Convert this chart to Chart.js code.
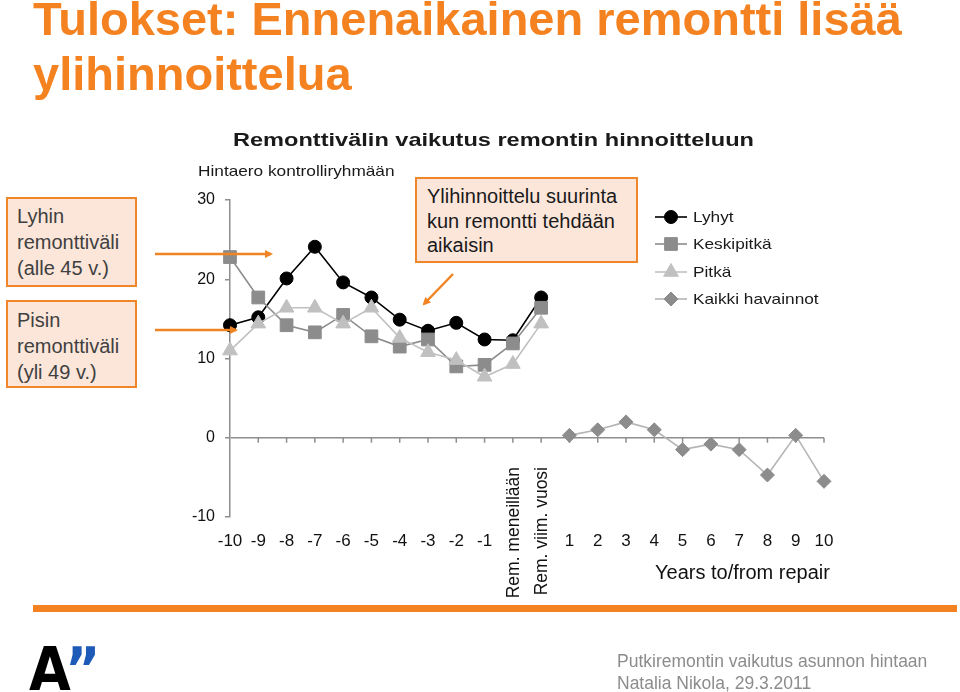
<!DOCTYPE html>
<html>
<head>
<meta charset="utf-8">
<script src="https://cdn.jsdelivr.net/npm/chart.js"></script>
<style>
  body { margin: 0; width: 960px; height: 692px; position: relative; overflow: hidden; background: #fff;
         font-family: Arial, "Liberation Sans", sans-serif; }
  #chart { position: absolute; left: 0; top: 0; }
  .abs { position: absolute; white-space: nowrap; }
  .title { left: 33px; top: -9px; font-size: 47px; line-height: 55px; font-weight: bold; color: #F58220; }
  .chartTitle { left: 233px; top: 129px; font-size: 19px; line-height: 22px; font-weight: bold; color: #1a1a1a;
                transform: scaleX(1.24); transform-origin: left top; }
  .yTitle { left: 198px; top: 162px; font-size: 15px; line-height: 18px; color: #1a1a1a;
            transform: scaleX(1.15); transform-origin: left top; }
  .box { position: absolute; background: #FCE6DA; border: 2px solid #F0862A; box-sizing: border-box;
         color: #404040; font-size: 20px; white-space: nowrap; }
  .xTitle { left: 655px; top: 560px; font-size: 20px; line-height: 24px; color: #111; }
  .bar { position: absolute; left: 33px; top: 605px; width: 924px; height: 7px; background: #F58220; }
  .logo { left: 29px; top: 633px; font-family: "DejaVu Sans", "Liberation Sans", Arial, sans-serif;
          font-weight: bold; font-size: 60px; line-height: 72px; color: #000;
          transform: scaleX(0.9); transform-origin: left top; letter-spacing: -1px; }
  .logo span { color: #1E5BB8; }
  .footer { left: 617px; top: 650px; font-size: 17.5px; line-height: 22px; color: #8c8c8c; }
  svg { position: absolute; left: 0; top: 0; }
</style>
</head>
<body>
<canvas id="chart" width="960" height="692"></canvas>

<div class="abs title">Tulokset: Ennenaikainen remontti lisää<br>ylihinnoittelua</div>
<div class="abs chartTitle">Remonttivälin vaikutus remontin hinnoitteluun</div>
<div class="abs yTitle">Hintaero kontrolliryhmään</div>

<div class="box" style="left:6px; top:197px; width:131px; height:90px; padding:4px 0 0 9px; line-height:26px;">Lyhin<br>remonttiväli<br>(alle 45 v.)</div>
<div class="box" style="left:6px; top:300px; width:131px; height:88px; padding:5px 0 0 9px; line-height:26px;">Pisin<br>remonttiväli<br>(yli 49 v.)</div>
<div class="box" style="left:415px; top:177px; width:223px; height:86px; padding:5px 0 0 10px; line-height:24.5px; color:#1a1a1a;">Ylihinnoittelu suurinta<br>kun remontti tehdään<br>aikaisin</div>

<svg width="960" height="692">
  <defs>
    <marker id="head" markerWidth="8" markerHeight="8" refX="6" refY="4" orient="auto" markerUnits="userSpaceOnUse">
      <path d="M0,0 L8,4 L0,8 z" fill="#F08424"/>
    </marker>
  </defs>
  <line x1="155" y1="254" x2="271" y2="254" stroke="#F08424" stroke-width="2.5" marker-end="url(#head)"/>
  <line x1="155" y1="330" x2="236" y2="330" stroke="#F08424" stroke-width="2.5" marker-end="url(#head)"/>
  <line x1="453" y1="274" x2="424" y2="304" stroke="#F08424" stroke-width="2.5" marker-end="url(#head)"/>
</svg>

<div class="abs xTitle">Years to/from repair</div>
<div class="bar"></div>
<div class="abs logo">A<span>”</span></div>
<div class="abs footer">Putkiremontin vaikutus asunnon hintaan<br>Natalia Nikola, 29.3.2011</div>

<script>
// data
const categories = ["-10", "-9", "-8", "-7", "-6", "-5", "-4", "-3", "-2", "-1",
  "Rem. meneillään", "Rem. viim. vuosi", "1", "2", "3", "4", "5", "6", "7", "8", "9", "10"];
const verticalLabels = ["Rem. meneillään", "Rem. viim. vuosi"];

const lyhyt = [14.2, 15.2, 20.1, 24.1, 19.6, 17.7, 14.9, 13.5, 14.5, 12.4, 12.3, 17.7,
  null, null, null, null, null, null, null, null, null, null];
const keskipitka = [22.8, 17.7, 14.2, 13.3, 15.5, 12.8, 11.5, 12.4, 9.0, 9.2, 11.9, 16.4,
  null, null, null, null, null, null, null, null, null, null];
const pitka = [11.0, 14.4, 16.4, 16.4, 14.4, 16.4, 12.6, 10.8, 9.8, 7.7, 9.3, 14.4,
  null, null, null, null, null, null, null, null, null, null];
const kaikki = [null, null, null, null, null, null, null, null, null, null, null, null,
  0.3, 1.0, 2.0, 1.0, -1.5, -0.8, -1.5, -4.7, 0.3, -5.5];

const yTicks = [-10, 0, 10, 20, 30];

const axisColor = "#8e8e8e";
const legendRows = [217, 244, 272, 299];

// tick marks hanging under the zero line
const zeroAxisTicks = {
  id: "zeroAxisTicks",
  beforeDatasetsDraw(chart) {
    const { ctx, scales: { x, y } } = chart;
    const y0 = y.getPixelForValue(0);
    ctx.save();
    ctx.strokeStyle = axisColor;
    ctx.lineWidth = 1.5;
    ctx.beginPath();
    for (let i = 1; i < categories.length; i++) {
      const px = x.getPixelForValue(i);
      ctx.moveTo(px, y0);
      ctx.lineTo(px, y0 + 5);
    }
    ctx.stroke();
    ctx.restore();
  },
};

// the two text categories are written vertically
const verticalTicks = {
  id: "verticalTicks",
  afterDraw(chart) {
    const { ctx, scales: { x } } = chart;
    ctx.save();
    ctx.font = "17.5px Arial, 'Liberation Sans', sans-serif";
    ctx.fillStyle = "#111";
    ctx.textAlign = "right";
    ctx.textBaseline = "middle";
    categories.forEach((c, i) => {
      if (!verticalLabels.includes(c)) return;
      ctx.save();
      ctx.translate(x.getPixelForValue(i) + 1, 467);
      ctx.rotate(-Math.PI / 2);
      ctx.fillText(c, 0, 0);
      ctx.restore();
    });
    ctx.restore();
  },
};

// legend with line + marker, like the Excel one
const lineLegend = {
  id: "lineLegend",
  afterDraw(chart) {
    const ctx = chart.ctx;
    chart.data.datasets.forEach((ds, i) => {
      const yy = legendRows[i];
      ctx.save();
      ctx.strokeStyle = ds.borderColor;
      ctx.lineWidth = ds.borderWidth;
      ctx.beginPath();
      ctx.moveTo(655, yy);
      ctx.lineTo(687, yy);
      ctx.stroke();
      ctx.fillStyle = ds.pointBackgroundColor;
      ctx.strokeStyle = ds.pointBorderColor;
      ctx.lineWidth = 1;
      if (Chart.helpers && Chart.helpers.drawPoint) {
        Chart.helpers.drawPoint(ctx, { pointStyle: ds.pointStyle, radius: ds.pointRadius, rotation: 0, borderWidth: 1 }, 671, yy);
      } else {
        ctx.beginPath();
        ctx.arc(671, yy, 6, 0, Math.PI * 2);
        ctx.fill();
      }
      ctx.translate(693, yy);
      ctx.scale(1.15, 1);
      ctx.font = "15px Arial, 'Liberation Sans', sans-serif";
      ctx.fillStyle = "#1a1a1a";
      ctx.textBaseline = "middle";
      ctx.fillText(ds.label, 0, 1);
      ctx.restore();
    });
  },
};

new Chart(document.getElementById("chart"), {
  type: "line",
  data: {
    labels: categories,
    datasets: [
      {
        label: "Lyhyt",
        data: lyhyt,
        borderColor: "#000",
        borderWidth: 1.6,
        pointStyle: "circle",
        pointRadius: 6.5,
        pointBackgroundColor: "#000",
        pointBorderColor: "#000",
        pointBorderWidth: 1,
        order: 4,
      },
      {
        label: "Keskipitkä",
        data: keskipitka,
        borderColor: "#8c8c8c",
        borderWidth: 1.6,
        pointStyle: "rect",
        pointRadius: 9,
        pointBackgroundColor: "#8c8c8c",
        pointBorderColor: "#8c8c8c",
        pointBorderWidth: 1,
        order: 3,
      },
      {
        label: "Pitkä",
        data: pitka,
        borderColor: "#c0c0c0",
        borderWidth: 1.6,
        pointStyle: "triangle",
        pointRadius: 8.5,
        pointBackgroundColor: "#c0c0c0",
        pointBorderColor: "#c0c0c0",
        pointBorderWidth: 1,
        order: 2,
      },
      {
        label: "Kaikki havainnot",
        data: kaikki,
        borderColor: "#b4b4b4",
        borderWidth: 1.6,
        pointStyle: "rectRot",
        pointRadius: 7,
        pointBackgroundColor: "#8c8c8c",
        pointBorderColor: "#8c8c8c",
        pointBorderWidth: 1,
        order: 1,
      },
    ],
  },
  options: {
    responsive: false,
    animation: false,
    events: [],
    layout: { padding: { left: 180, right: 136, top: 200, bottom: 115 } },
    plugins: { legend: { display: false }, tooltip: { enabled: false } },
    scales: {
      x: {
        offset: false,
        afterFit: (scale) => { scale.height = 60; },
        grid: { display: false, drawTicks: false },
        border: { display: false },
        ticks: {
          autoSkip: false,
          maxRotation: 0,
          minRotation: 0,
          padding: 14,
          color: "#111",
          font: { family: "Arial, 'Liberation Sans', sans-serif", size: 17 },
          callback(value) {
            const lab = this.getLabelForValue(value);
            return verticalLabels.includes(lab) ? "" : lab;
          },
        },
      },
      y: {
        min: yTicks[0],
        max: yTicks[yTicks.length - 1],
        afterFit: (scale) => { scale.width = 50; },
        afterBuildTicks: (scale) => { scale.ticks = yTicks.map((v) => ({ value: v })); },
        grid: {
          color: (c) => (c.tick && c.tick.value === 0 ? axisColor : "rgba(0,0,0,0)"),
          tickColor: axisColor,
          lineWidth: 1.5,
          tickLength: 5,
        },
        border: { display: true, color: axisColor, width: 1.5 },
        ticks: {
          padding: 10,
          color: "#111",
          font: { family: "Arial, 'Liberation Sans', sans-serif", size: 16 },
        },
      },
    },
  },
  plugins: [zeroAxisTicks, verticalTicks, lineLegend],
});
</script>
</body>
</html>
